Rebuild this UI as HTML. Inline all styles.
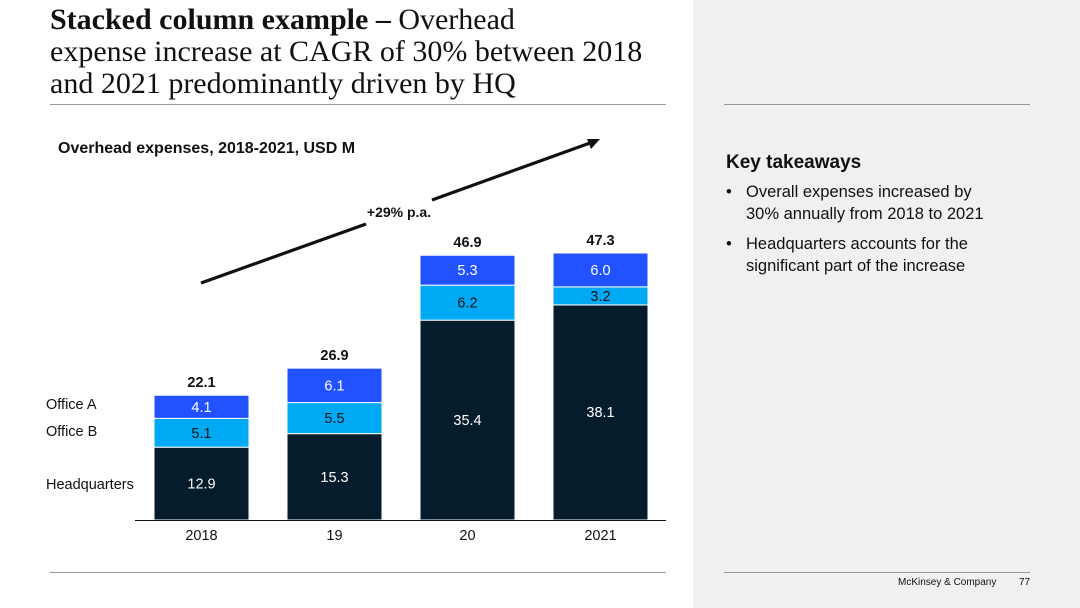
<!DOCTYPE html>
<html><head><meta charset="utf-8"><style>
body{margin:0;width:1080px;height:608px;overflow:hidden;background:#fff;position:relative;font-family:"Liberation Sans",sans-serif;}
.abs{position:absolute;}
</style></head><body>
<div class="abs" style="left:693px;top:0;width:387px;height:608px;background:#f0f0f0"></div>
<div class="abs" style="left:50px;top:4px;width:660px;white-space:nowrap;font-family:'Liberation Serif',serif;font-size:30px;line-height:32px;color:#111;letter-spacing:0px"><b>Stacked column example –</b> Overhead<br>expense increase at CAGR of 30% between 2018<br>and 2021 predominantly driven by HQ</div>
<div class="abs" style="left:50px;top:104px;width:616px;height:1px;background:#999"></div>
<div class="abs" style="left:724px;top:104px;width:306px;height:1px;background:#999"></div>
<div class="abs" style="left:50px;top:572px;width:616px;height:1px;background:#999"></div>
<div class="abs" style="left:724px;top:572px;width:306px;height:1px;background:#999"></div>
<div class="abs" style="left:726px;top:152px;font-size:19px;font-weight:bold;color:#111">Key takeaways</div>
<div class="abs" style="left:726px;top:181px;width:290px;font-size:16.5px;line-height:22px;color:#111">
<div style="padding-left:20px;position:relative;margin-bottom:8px"><span style="position:absolute;left:0">•</span>Overall expenses increased by<br>30% annually from 2018 to 2021</div>
<div style="padding-left:20px;position:relative"><span style="position:absolute;left:0">•</span>Headquarters accounts for the<br>significant part of the increase</div>
</div>
<div class="abs" style="left:898px;top:577px;font-size:10px;color:#111">McKinsey &amp; Company</div>
<div class="abs" style="left:1019px;top:577px;font-size:10px;color:#111">77</div>
<svg class="abs" style="left:0;top:0" width="693" height="608">
<text x="58" y="153" font-size="16" font-weight="bold" fill="#111">Overhead expenses, 2018-2021, USD M</text>
<line x1="201" y1="283" x2="366" y2="224" stroke="#111" stroke-width="3.2"/>
<line x1="432" y1="200" x2="590" y2="143" stroke="#111" stroke-width="3.2"/>
<path d="M600,139 L587,139 L591,149 Z" fill="#111"/>
<text x="399" y="217" font-size="14" font-weight="bold" text-anchor="middle" fill="#111">+29% p.a.</text>
<g id="bars"></g>
<line x1="135" y1="520.5" x2="666" y2="520.5" stroke="#111" stroke-width="1"/>
<text x="46" y="409" font-size="14.5" fill="#111">Office A</text>
<text x="46" y="436" font-size="14.5" fill="#111">Office B</text>
<text x="46" y="489" font-size="14.5" fill="#111">Headquarters</text>
</svg>
<script>
const categories=["2018","19","20","2021"];
const hq=[12.9,15.3,35.4,38.1];
const officeB=[5.1,5.5,6.2,3.2];
const officeA=[4.1,6.1,5.3,6.0];
const totals=["22.1","26.9","46.9","47.3"];
const ns="http://www.w3.org/2000/svg";
const g=document.getElementById('bars');
const base=520,scale=5.645,x0=154,step=133,bw=95;
const y=v=>base-v*scale;
const series=[{d:hq,c:"#051c2c",t:"#fff",n:"hq"},{d:officeB,c:"#00a9f4",t:"#111",n:"office-b"},{d:officeA,c:"#2251ff",t:"#fff",n:"office-a"}];
categories.forEach((cat,i)=>{
  let cum=0;const x=x0+i*step;
  series.forEach(s=>{
    const v=s.d[i];const top=y(cum+v),bot=y(cum);
    const r=document.createElementNS(ns,'rect');
    r.setAttribute('x',x);r.setAttribute('y',top);r.setAttribute('width',bw);r.setAttribute('height',bot-top);
    r.setAttribute('fill',s.c);r.setAttribute('stroke','#fff');r.setAttribute('stroke-width','1');
    
    
    g.appendChild(r);
    const t=document.createElementNS(ns,'text');
    const ty=(s.n==='hq')?Math.min((top+bot)/2, top+107)+5:(top+bot)/2+5;
    t.setAttribute('x',x+bw/2);t.setAttribute('y',ty);t.setAttribute('text-anchor','middle');
    t.setAttribute('font-size','14.5');t.setAttribute('fill',s.t);t.textContent=v.toFixed(1);
    
    
    g.appendChild(t);
    cum+=v;
  });
  const tt=document.createElementNS(ns,'text');
  tt.setAttribute('x',x+bw/2);tt.setAttribute('y',y(cum)-8);tt.setAttribute('text-anchor','middle');
  tt.setAttribute('font-size','14.5');tt.setAttribute('font-weight','bold');tt.setAttribute('fill','#111');tt.textContent=totals[i];
  
  
  g.appendChild(tt);
  const xl=document.createElementNS(ns,'text');
  xl.setAttribute('x',x+bw/2);xl.setAttribute('y',540);xl.setAttribute('text-anchor','middle');
  xl.setAttribute('font-size','14.5');xl.setAttribute('fill','#111');xl.textContent=cat;
  
  
  g.appendChild(xl);
});
</script>
</body></html>
